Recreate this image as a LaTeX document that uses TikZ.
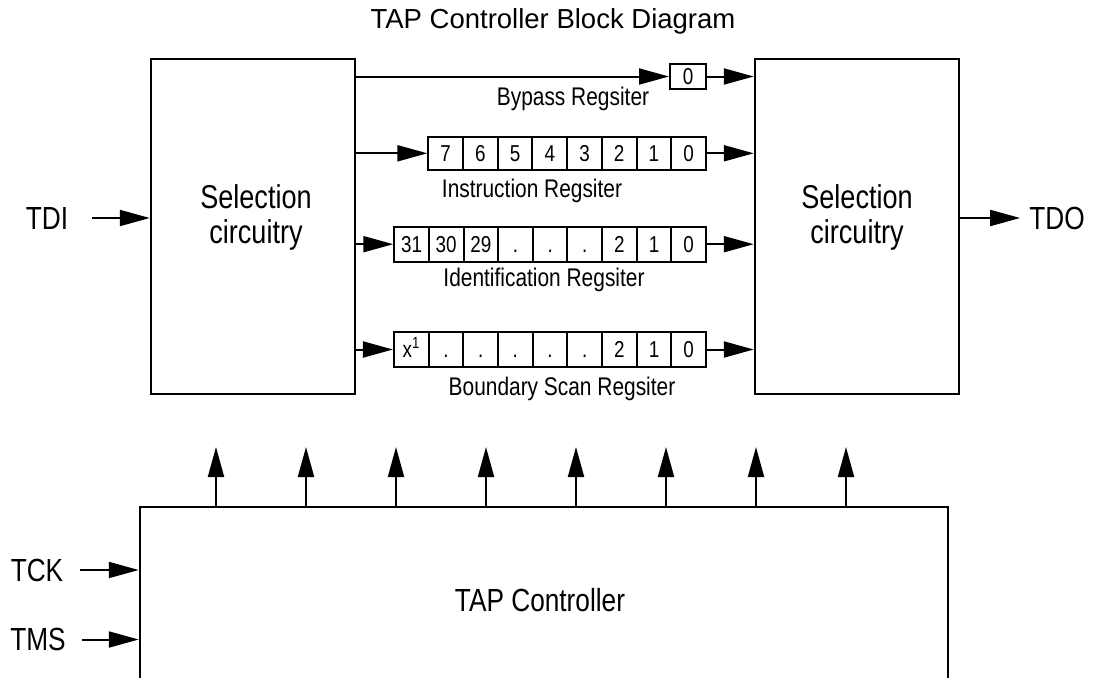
\documentclass[tikz,border=0pt]{standalone}
\usepackage{fontspec}
\setmainfont{Liberation Sans}[FakeStretch=0.82]
\newfontfamily\titlefont{Liberation Sans}
\usetikzlibrary{arrows.meta,positioning,calc}

\begin{document}
\begin{tikzpicture}[x=1pt,y=-1pt,
    box/.style={draw,line width=2.5pt,inner sep=0pt},
    cell/.style={draw,line width=2pt,inner sep=0pt,minimum width=34.7pt,minimum height=34pt,
      font=\fontsize{23}{23}\selectfont,text height=16.5pt,text depth=0pt},
    arr/.style={line width=2pt,-{Triangle[length=30pt,width=16pt]}},
    big/.style={font=\fontsize{32}{35}\selectfont,inner sep=0pt,align=center},
    reglbl/.style={font=\fontsize{25.5}{26}\selectfont,inner sep=0pt,anchor=base}]
        \useasboundingbox (0,0) rectangle (1094,677);
        \clip (0,0) rectangle (1094,677);
        \fill[white] (0,0) rectangle (1094,677);
        % title
        \node[font=\titlefont\fontsize{27.5}{30}\selectfont,anchor=base,inner sep=0pt] (title) at (553,28.3) {TAP Controller Block Diagram};
        % selection blocks and controller
        \node[box,minimum width=204pt,minimum height=335pt] (selL) at (253,226.5) {};
        \node[box,minimum width=204pt,minimum height=335pt] (selR) at (857,226.5) {};
        \node[box,minimum width=808pt,minimum height=300pt] (tap) at (544,657) {};
        \node[big,font=\fontsize{33}{35}\selectfont] (selLtxt) at (256,217) {Selection\\circuitry};
        \node[big,font=\fontsize{33}{35}\selectfont] (selRtxt) at (857,217) {Selection\\circuitry};
        \node[big] (taptxt) at (540,600) {TAP Controller};
        % pins
        \node[big] (tdi) at (47,218) {TDI};
        \node[big] (tdo) at (1057,218) {TDO};
        \node[big] (tck) at (37,570) {TCK};
        \node[big] (tms) at (38,639.5) {TMS};
        \draw[arr] ([xshift=24pt]tdi.east) -- (tdi.east -| selL.west);
        \draw[arr] (tdo.west -| selR.east) -- ([xshift=-9pt]tdo.west);
        \draw[arr] ([xshift=17pt]tck.east) -- (tck.east -| tap.west);
        \draw[arr] ([xshift=16pt]tms.east) -- (tms.east -| tap.west);
        % bypass register
        \node[cell,minimum width=36pt,minimum height=25pt] (byp) at (688,76.5) {0};
        \node[reglbl] (bypLbl) at (573,105) {Bypass Regsiter};
        \draw[arr] (byp.west -| selL.east) -- (byp.west);
        \draw[arr] (byp.east) -- (byp.east -| selR.west);
        % instruction register
        \foreach \b [count=\k from 0] in {7,6,5,4,3,2,1,0}
        \node[cell,minimum height=33.3pt] (ir\k) at (445.7+34.7*\k,153.3) {\b};
        \node[reglbl] (irLbl) at (532,197) {Instruction Regsiter};
        \draw[arr] (ir0.west -| selL.east) -- (ir0.west);
        \draw[arr] (ir7.east) -- (ir7.east -| selR.west);
        % identification register
        \foreach \b [count=\k from 0] in {31,30,29,.,.,.,2,1,0}
        \node[cell,minimum height=35pt] (id\k) at (411.6+34.63*\k,244.2) {\b};
        \node[reglbl] (idLbl) at (544,286) {Identification Regsiter};
        \draw[arr] (id0.west -| selL.east) -- (id0.west);
        \draw[arr] (id8.east) -- (id8.east -| selR.west);
        % boundary scan register
        \foreach \b [count=\k from 0] in {x\textsuperscript{1},.,.,.,.,.,2,1,0}
        \node[cell,minimum height=34.4pt] (bs\k) at (411.3+34.67*\k,349.5) {\b};
        \node[reglbl] (bsLbl) at (562,395.5) {Boundary Scan Regsiter};
        \draw[arr] (bs0.west -| selL.east) -- (bs0.west);
        \draw[arr] (bs8.east) -- (bs8.east -| selR.west);
        % control lines
        \foreach \i in {0,...,7} {
        \coordinate (ctl\i) at (216+90*\i,447);
        \draw[arr] (ctl\i |- tap.north) -- (ctl\i);
        }
\end{tikzpicture}
\end{document}
